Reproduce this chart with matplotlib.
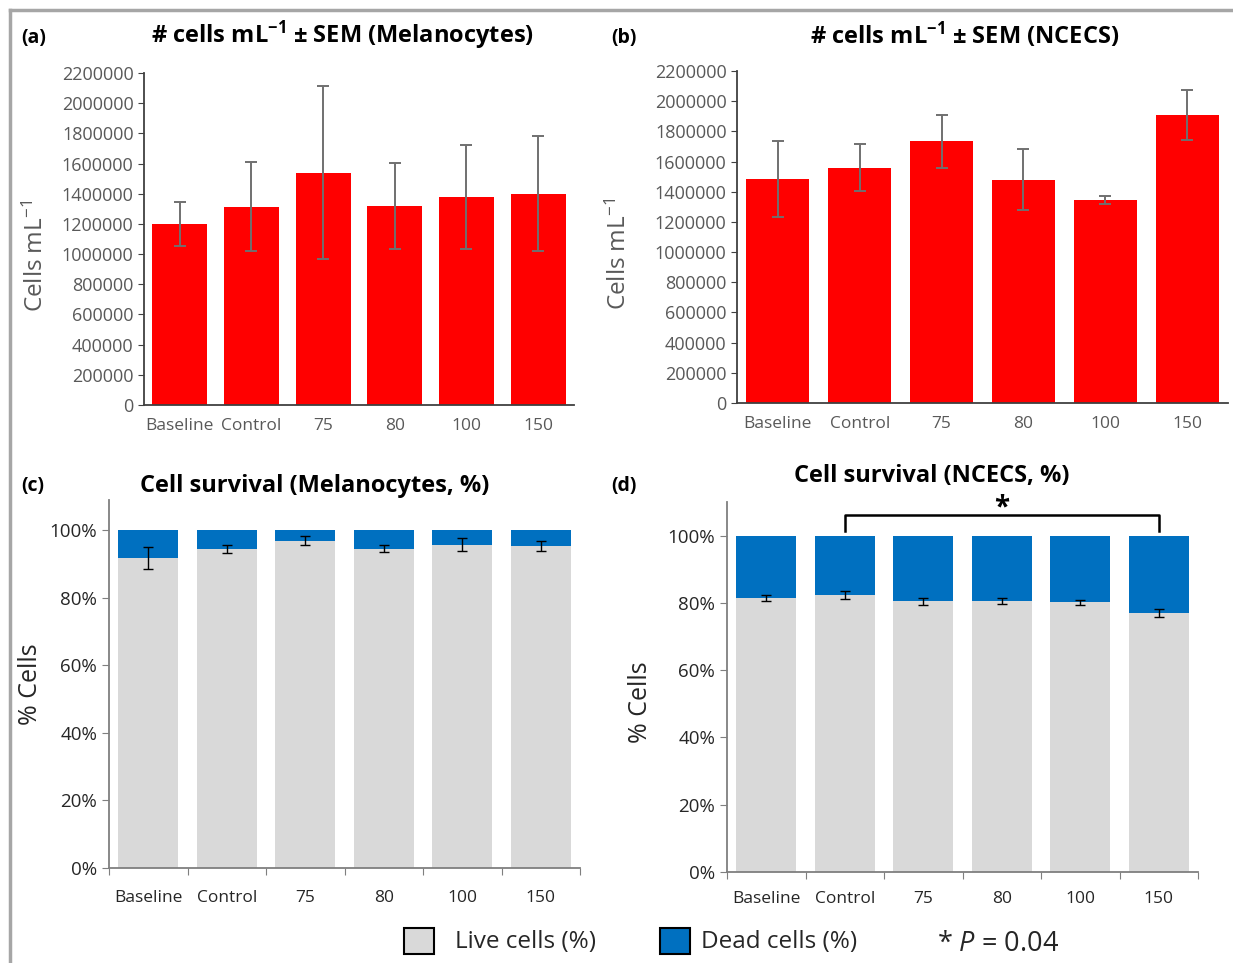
import numpy as np
import matplotlib
matplotlib.use('Agg')
import matplotlib.pyplot as plt
from matplotlib.lines import Line2D
from matplotlib.patches import Rectangle

plt.rcParams['font.family'] = ['Open Sans', 'DejaVu Sans']
plt.rcParams['mathtext.fontset'] = 'custom'
plt.rcParams['mathtext.rm'] = 'Open Sans'
plt.rcParams['mathtext.it'] = 'Open Sans:italic'
plt.rcParams['mathtext.bf'] = 'Open Sans:bold'

# Data
groups = ['Baseline', 'Control', '75', '80', '100', '150']

mel_count = [1200000, 1315000, 1540000, 1320000, 1380000, 1400000]
mel_count_sem = [145000, 295000, 575000, 283000, 343000, 380000]

ncecs_count = [1485000, 1560000, 1735000, 1480000, 1345000, 1910000]
ncecs_count_sem = [250000, 158000, 175000, 200000, 25000, 165000]

mel_live = [91.8, 94.6, 97.0, 94.6, 95.8, 95.3]
mel_live_sem = [3.3, 1.2, 1.4, 1.0, 2.0, 1.5]

ncecs_live = [81.5, 82.3, 80.5, 80.5, 80.2, 77.0]
ncecs_live_sem = [1.0, 1.1, 1.0, 0.9, 0.8, 1.2]

W, H = 1233, 963
fig = plt.figure(figsize=(W / 100, H / 100), dpi=100)


def px_axes(x0, x1, y0, y1):
    return fig.add_axes([x0 / W, 1 - y1 / H, (x1 - x0) / W, (y1 - y0) / H])


axis_col = '#7f7f7f'
x = np.arange(len(groups))
bw = 0.77


def count_panel(ax, vals, sem):
    ax.bar(x, vals, width=bw, color='#ff0000', zorder=2)
    ax.errorbar(x, vals, yerr=sem, fmt='none', ecolor='#707070', elinewidth=1.4,
                capsize=4, capthick=1.4, zorder=3)
    ax.set_xlim(-0.5, 5.5)
    ax.set_ylim(0, 2200000)
    ax.set_yticks(np.arange(0, 2200001, 200000))
    ax.set_yticklabels([str(v) for v in range(0, 2200001, 200000)])
    ax.set_xticks(x)
    ax.set_xticklabels(groups)
    for s in ['top', 'right']:
        ax.spines[s].set_visible(False)
    for s in ['left', 'bottom']:
        ax.spines[s].set_color('#404040')
        ax.spines[s].set_linewidth(1.3)
    ax.tick_params(axis='x', length=0, pad=9, labelsize=12.5, labelcolor='#595959')
    ax.tick_params(axis='y', length=4, color='#404040', labelsize=13, labelcolor='#595959')
    ax.set_ylabel('Cells mL$^{-1}$', fontsize=17.5, color='#595959')


def survival_panel(ax, live, sem, top, pad):
    dead = [100 - v for v in live]
    ax.bar(x, live, width=bw, color='#d9d9d9', zorder=2)
    ax.bar(x, dead, width=bw, bottom=live, color='#0070c0', zorder=2)
    ax.errorbar(x, live, yerr=sem, fmt='none', ecolor='black', elinewidth=1.0,
                capsize=3.5, capthick=1.0, zorder=3)
    ax.set_xlim(-0.5, 5.5)
    ax.set_ylim(0, top)
    ax.set_yticks(np.arange(0, 101, 20))
    ax.set_yticklabels(['%d%%' % v for v in range(0, 101, 20)])
    ax.set_xticks(np.arange(-0.5, 6, 1))
    ax.set_xticks(x, minor=True)
    ax.set_xticklabels([])
    ax.set_xticklabels(groups, minor=True)
    for s in ['top', 'right']:
        ax.spines[s].set_visible(False)
    for s in ['left', 'bottom']:
        ax.spines[s].set_color(axis_col)
        ax.spines[s].set_linewidth(1.3)
    ax.tick_params(axis='x', which='major', length=5, color=axis_col)
    ax.tick_params(axis='x', which='minor', length=0, pad=pad, labelsize=12.5,
                   labelcolor='#262626')
    ax.tick_params(axis='y', length=5, color=axis_col, labelsize=13.5, labelcolor='#262626')
    ax.set_ylabel('% Cells', fontsize=18, color='#262626')


ax_a = px_axes(144, 574, 73, 405)
count_panel(ax_a, mel_count, mel_count_sem)
ax_a.yaxis.set_label_coords(-0.222, 0.45)

ax_b = px_axes(737, 1228, 71, 403)
count_panel(ax_b, ncecs_count, ncecs_count_sem)
ax_b.yaxis.set_label_coords(-0.214, 0.45)

ax_c = px_axes(109, 580, 500, 868)
survival_panel(ax_c, mel_live, mel_live_sem, 109, 16)
ax_c.yaxis.set_label_coords(-0.141, 0.5)

ax_d = px_axes(727, 1198, 502, 872)
survival_panel(ax_d, ncecs_live, ncecs_live_sem, 110, 14)
ax_d.yaxis.set_label_coords(-0.157, 0.46)

# significance bracket Control vs 150
ax_d.plot([1, 1, 5, 5], [101.5, 106, 106, 101.5], color='black', lw=1.8,
          clip_on=False, zorder=4)
ax_d.text(3, 108.2, '*', ha='center', va='center', fontsize=20, fontweight='bold')

# titles and panel letters
fig.text(343 / W, 1 - 35 / H, '# cells mL$^{\\mathbf{-1}}$ ± SEM (Melanocytes)',
         ha='center', va='center', fontsize=17, fontweight='bold')
fig.text(965 / W, 1 - 35 / H, '# cells mL$^{\\mathbf{-1}}$ ± SEM (NCECS)',
         ha='center', va='center', fontsize=17, fontweight='bold')
fig.text(315 / W, 1 - 486 / H, 'Cell survival (Melanocytes, %)',
         ha='center', va='center', fontsize=17, fontweight='bold')
fig.text(932 / W, 1 - 476 / H, 'Cell survival (NCECS, %)',
         ha='center', va='center', fontsize=17, fontweight='bold')
for lbl, px, py in [('(a)', 21, 38), ('(b)', 611, 38), ('(c)', 21, 486), ('(d)', 611, 486)]:
    fig.text(px / W, 1 - py / H, lbl, ha='left', va='center', fontsize=14, fontweight='bold')

# legend
fig.patches.append(Rectangle((404 / W, 1 - 954 / H), 30 / W, 26 / H, transform=fig.transFigure,
                             facecolor='#d9d9d9', edgecolor='black', lw=1.5))
fig.text(455 / W, 1 - 942 / H, 'Live cells (%)', ha='left', va='center', fontsize=17.5,
         color='#262626')
fig.patches.append(Rectangle((660 / W, 1 - 954 / H), 30 / W, 26 / H, transform=fig.transFigure,
                             facecolor='#0070c0', edgecolor='black', lw=1.5))
fig.text(701 / W, 1 - 942 / H, 'Dead cells (%)', ha='left', va='center', fontsize=17.5,
         color='#262626')
fig.text(937 / W, 1 - 944 / H, '* $\\mathit{P}$ = 0.04', ha='left', va='center',
         fontsize=19.5, color='#262626')

# frame lines at top and left
fig.add_artist(Line2D([10 / W, 1], [1 - 10 / H, 1 - 10 / H], transform=fig.transFigure,
                      color='#a6a6a6', lw=2.5))
fig.add_artist(Line2D([10 / W, 10 / W], [0, 1 - 10 / H], transform=fig.transFigure,
                      color='#a6a6a6', lw=2.5))

fig.savefig('out.png', dpi=100)
